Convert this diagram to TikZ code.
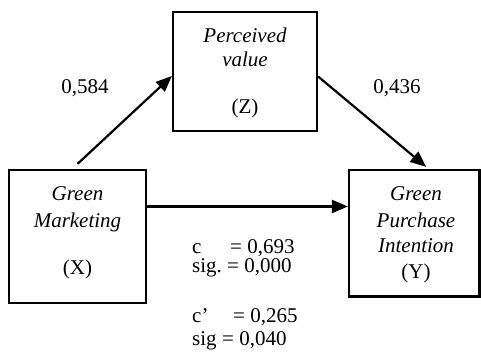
\documentclass[tikz,border=0pt]{standalone}
\usepackage{fontspec}
\setmainfont{Liberation Serif}
\usetikzlibrary{arrows.meta}
\begin{document}
\begin{tikzpicture}[x=1pt,y=-1pt,
  box/.style={draw, line width=2.2pt, inner sep=0pt},
  txt/.style={anchor=base, inner sep=0pt, font=\fontsize{21}{24}\selectfont},
  itx/.style={anchor=base, inner sep=0pt, font=\fontsize{21}{24}\selectfont\itshape},
  stl/.style={anchor=base west, inner sep=0pt, font=\fontsize{21}{24}\selectfont},
  arr/.style={line width=2.2pt, -{Triangle[length=16pt,width=13pt]}}]
\useasboundingbox (0,0) rectangle (481,354);
% boxes
\node[box, minimum width=144pt, minimum height=119pt] (Z) at (245,71.5) {};
\node[box, minimum width=137pt, minimum height=133pt] (X) at (77.5,236.5) {};
\node[box, minimum width=130.5pt, minimum height=126.5pt] (Y) at (414.25,233.25) {};
% box texts
\node[itx] (z1) at (245,42) {Perceived};
\node[itx] (z2) at (245,66) {value};
\node[txt] (z3) at (245,113) {(Z)};
\node[itx] (x1) at (77.5,200) {Green};
\node[itx] (x2) at (77.5,227) {Marketing};
\node[txt] (x3) at (77.5,274) {(X)};
\node[itx] (y1) at (416,200) {Green};
\node[itx] (y2) at (416,227) {Purchase};
\node[itx] (y3) at (416,252) {Intention};
\node[txt] (y4) at (416,278) {(Y)};
% arrows
\draw[arr] ([yshift=5pt]X.north) -- ([yshift=-4.5pt]Z.west);
\draw[arr] ([yshift=-5pt]Z.east) -- ([xshift=12pt,yshift=2pt]Y.north);
\draw[arr] ([yshift=30pt]X.east) -- ([yshift=30pt]X.east -| Y.west);
% path coefficients
\node[txt] (a) at (85,93) {0,584};
\node[txt] (b) at (397,93) {0,436};
% statistics
\node[stl] (s1) at (192,253) {\makebox[38pt][l]{c}= 0,693};
\node[stl] (s2) at (192,272) {\makebox[35pt][l]{sig.}= 0,000};
\node[stl] (s3) at (192,322) {\makebox[41pt][l]{c’}= 0,265};
\node[stl] (s4) at (192,345) {\makebox[30pt][l]{sig}= 0,040};
\end{tikzpicture}
\end{document}
